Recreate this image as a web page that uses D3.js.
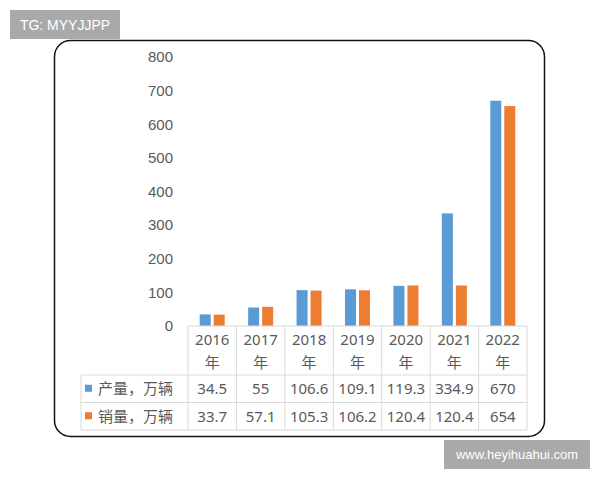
<!DOCTYPE html>
<html>
<head>
<meta charset="utf-8">
<script src="https://cdn.jsdelivr.net/npm/d3@7"></script>
<style>
  body { margin: 0; background: #fff; }
  svg { font-family: "Noto Sans", "Noto Sans CJK SC", sans-serif; }
</style>
</head>
<body>
<div id="chart"></div>
<script>
var years = ['2016', '2017', '2018', '2019', '2020', '2021', '2022'];
var seriesNames = ['产量，万辆', '销量，万辆'];
var production = [34.5, 55, 106.6, 109.1, 119.3, 334.9, 670];
var sales = [33.7, 57.1, 105.3, 106.2, 120.4, 120.4, 654];
var yTicks = [0, 100, 200, 300, 400, 500, 600, 700, 800];
var colors = ['#5b9bd5', '#ed7d31'];

var W = 600, H = 480;
var textColor = '#595959';
var gridColor = '#d9d9d9';

var svg = d3.select('#chart').append('svg')
	.attr('width', W)
	.attr('height', H);

// chart frame
svg.append('rect')
	.attr('x', 54.5).attr('y', 40.5)
	.attr('width', 490).attr('height', 396)
	.attr('rx', 16).attr('ry', 16)
	.attr('fill', '#fff')
	.attr('stroke', '#111')
	.attr('stroke-width', 1.5);

var x = d3.scaleBand()
	.domain(years)
	.range([188, 527]);

var xInner = d3.scaleBand()
	.domain([0, 1])
	.range([0, x.bandwidth()])
	.paddingInner(0.214)
	.paddingOuter(0.836);

var y = d3.scaleLinear()
	.domain([0, 800])
	.range([326, 57]);

// y axis, labels only
var yAxis = svg.append('g')
	.attr('transform', 'translate(176,0)')
	.call(d3.axisLeft(y).tickValues(yTicks).tickSize(0).tickPadding(3));
yAxis.select('.domain').remove();
yAxis.selectAll('text')
	.attr('fill', textColor)
	.attr('font-size', 15);

// bars
var data = [production, sales];
data.forEach(function(values, s) {
	svg.append('g').selectAll('rect')
		.data(values)
		.enter().append('rect')
		.attr('x', function(d, i) { return x(years[i]) + xInner(s); })
		.attr('y', function(d) { return y(d); })
		.attr('width', xInner.bandwidth())
		.attr('height', function(d) { return y(0) - y(d); })
		.attr('fill', colors[s]);
});

// data table under the plot
var tableLeft = 81;
var rowTop = 326, headBottom = 375, row1Bottom = 402.5, row2Bottom = 430;
var rowEdges = [headBottom, row1Bottom, row2Bottom];
var table = svg.append('g')
	.attr('stroke', gridColor)
	.attr('stroke-width', 1);

table.append('line')
	.attr('x1', x.range()[0]).attr('x2', x.range()[1])
	.attr('y1', rowTop).attr('y2', rowTop);
rowEdges.forEach(function(r) {
	table.append('line')
		.attr('x1', tableLeft).attr('x2', x.range()[1])
		.attr('y1', r).attr('y2', r);
});
table.append('line')
	.attr('x1', tableLeft).attr('x2', tableLeft)
	.attr('y1', headBottom).attr('y2', row2Bottom);
years.concat(['end']).forEach(function(yr, i) {
	var xx = i < years.length ? x(yr) : x.range()[1];
	table.append('line')
		.attr('x1', xx).attr('x2', xx)
		.attr('y1', rowTop).attr('y2', row2Bottom);
});

// year headers
var head = svg.append('g')
	.attr('fill', textColor)
	.attr('font-size', 15)
	.attr('text-anchor', 'middle');
years.forEach(function(yr) {
	var cx = x(yr) + x.bandwidth() / 2;
	head.append('text').attr('x', cx).attr('y', 345).text(yr);
	head.append('text').attr('x', cx).attr('y', 368)
		.attr('font-family', '"Noto Sans CJK SC"')
		.attr('font-size', 15).text('年');
});

// series rows
var rowMid = [(headBottom + row1Bottom) / 2, (row1Bottom + row2Bottom) / 2];
data.forEach(function(values, s) {
	var g = svg.append('g');
	g.append('rect')
		.attr('x', 85).attr('y', rowMid[s] - 4)
		.attr('width', 7).attr('height', 7)
		.attr('fill', colors[s]);
	g.append('text')
		.attr('x', 98).attr('y', rowMid[s])
		.attr('dy', '0.36em')
		.attr('fill', textColor)
		.attr('font-size', 15)
		.attr('font-family', '"Noto Sans CJK SC"')
		.text(seriesNames[s]);
	g.selectAll('text.v')
		.data(values)
		.enter().append('text')
		.attr('class', 'v')
		.attr('x', function(d, i) { return x(years[i]) + x.bandwidth() / 2; })
		.attr('y', rowMid[s])
		.attr('dy', '0.36em')
		.attr('text-anchor', 'middle')
		.attr('fill', textColor)
		.attr('font-size', 15)
		.text(function(d) { return d; });
});

// watermarks
var marks = [
	{x: 10, y: 10, w: 110, h: 29, size: 14, text: 'TG: MYYJJPP'},
	{x: 444, y: 440, w: 146, h: 29, size: 13, text: 'www.heyihuahui.com'}
];
marks.forEach(function(m) {
	svg.append('rect')
		.attr('x', m.x).attr('y', m.y)
		.attr('width', m.w).attr('height', m.h)
		.attr('fill', '#a9a9a9');
	svg.append('text')
		.attr('x', m.x + m.w / 2).attr('y', m.y + m.h / 2)
		.attr('dy', '0.36em')
		.attr('text-anchor', 'middle')
		.attr('fill', '#fff')
		.attr('font-family', '"Liberation Sans", Arial, sans-serif')
		.attr('font-size', m.size)
		.text(m.text);
});
</script>
</body>
</html>
